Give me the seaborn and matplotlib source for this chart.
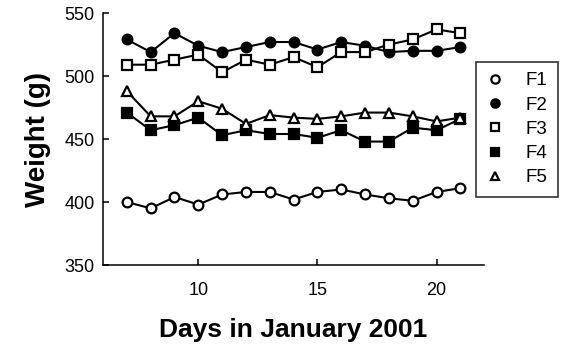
import pandas as pd
import numpy as np
import matplotlib
matplotlib.use("Agg")
import matplotlib.pyplot as plt
from matplotlib.lines import Line2D
import seaborn as sns

days = list(range(7, 22))
f1 = [400, 395, 404, 398, 406, 408, 408, 402, 408, 410, 406, 403, 401, 408, 411]
f2 = [529, 519, 534, 524, 519, 523, 527, 527, 521, 527, 524, 519, 520, 520, 523]
f3 = [509, 509, 513, 517, 503, 513, 509, 515, 507, 519, 519, 525, 529, 537, 534]
f4 = [471, 457, 461, 467, 453, 457, 454, 454, 451, 457, 448, 448, 459, 457, 466]
f5 = [488, 468, 468, 480, 474, 462, 469, 467, 466, 468, 471, 471, 468, 464, 467]
names = ["F1", "F2", "F3", "F4", "F5"]

df = pd.DataFrame({"day": days * 5,
                   "weight": f1 + f2 + f3 + f4 + f5,
                   "series": [n for n in names for _ in days]})

sns.set_style("ticks")
plt.rcParams['font.family'] = ['Liberation Sans', 'DejaVu Sans']
for k in ["text.color", "axes.labelcolor", "xtick.color", "ytick.color", "axes.edgecolor"]:
    plt.rcParams[k] = "black"

# marker, fill
styles = {"F1": ("o", "white"), "F2": ("o", "black"), "F3": ("s", "white"),
          "F4": ("s", "black"), "F5": ("^", "white")}

fig = plt.figure(figsize=(5.63, 3.52), dpi=100)
ax = fig.add_axes([0.183, 0.247, 0.677, 0.716])

for n in names:
    m, fc = styles[n]
    sns.lineplot(data=df[df["series"] == n], x="day", y="weight", ax=ax,
                 color="black", lw=1.5, marker=m, markersize=7,
                 markerfacecolor=fc, markeredgecolor="black", markeredgewidth=1.6,
                 legend=False)

ax.set_xlim(6, 22)
ax.set_ylim(350, 550)
ax.set_xticks([10, 15, 20])
ax.set_yticks([350, 400, 450, 500, 550])
ax.tick_params(direction="in", length=4.5, width=1.1, labelsize=13, pad=6)
ax.tick_params(axis="x", pad=12)
for s in ["top", "right"]:
    ax.spines[s].set_visible(False)
for s in ["left", "bottom"]:
    ax.spines[s].set_linewidth(1.1)
ax.set_xlabel("Days in January 2001", fontsize=19, fontweight="bold", labelpad=14)
ax.set_ylabel("Weight (g)", fontsize=20, fontweight="bold", labelpad=10)

handles = [Line2D([], [], ls="none", marker=styles[n][0], markersize=6,
                  markerfacecolor=styles[n][1], markeredgecolor="black",
                  markeredgewidth=1.6) for n in names]
leg = ax.legend(handles, names, loc="upper left", bbox_to_anchor=(0.845, 0.824),
                bbox_transform=fig.transFigure, borderaxespad=0, fontsize=13.5,
                frameon=True, fancybox=False, edgecolor="black", handlelength=1.0,
                handletextpad=1.1, labelspacing=0.38, borderpad=0.55)
leg.get_frame().set_linewidth(1.2)

fig.savefig("out.png", dpi=100)
